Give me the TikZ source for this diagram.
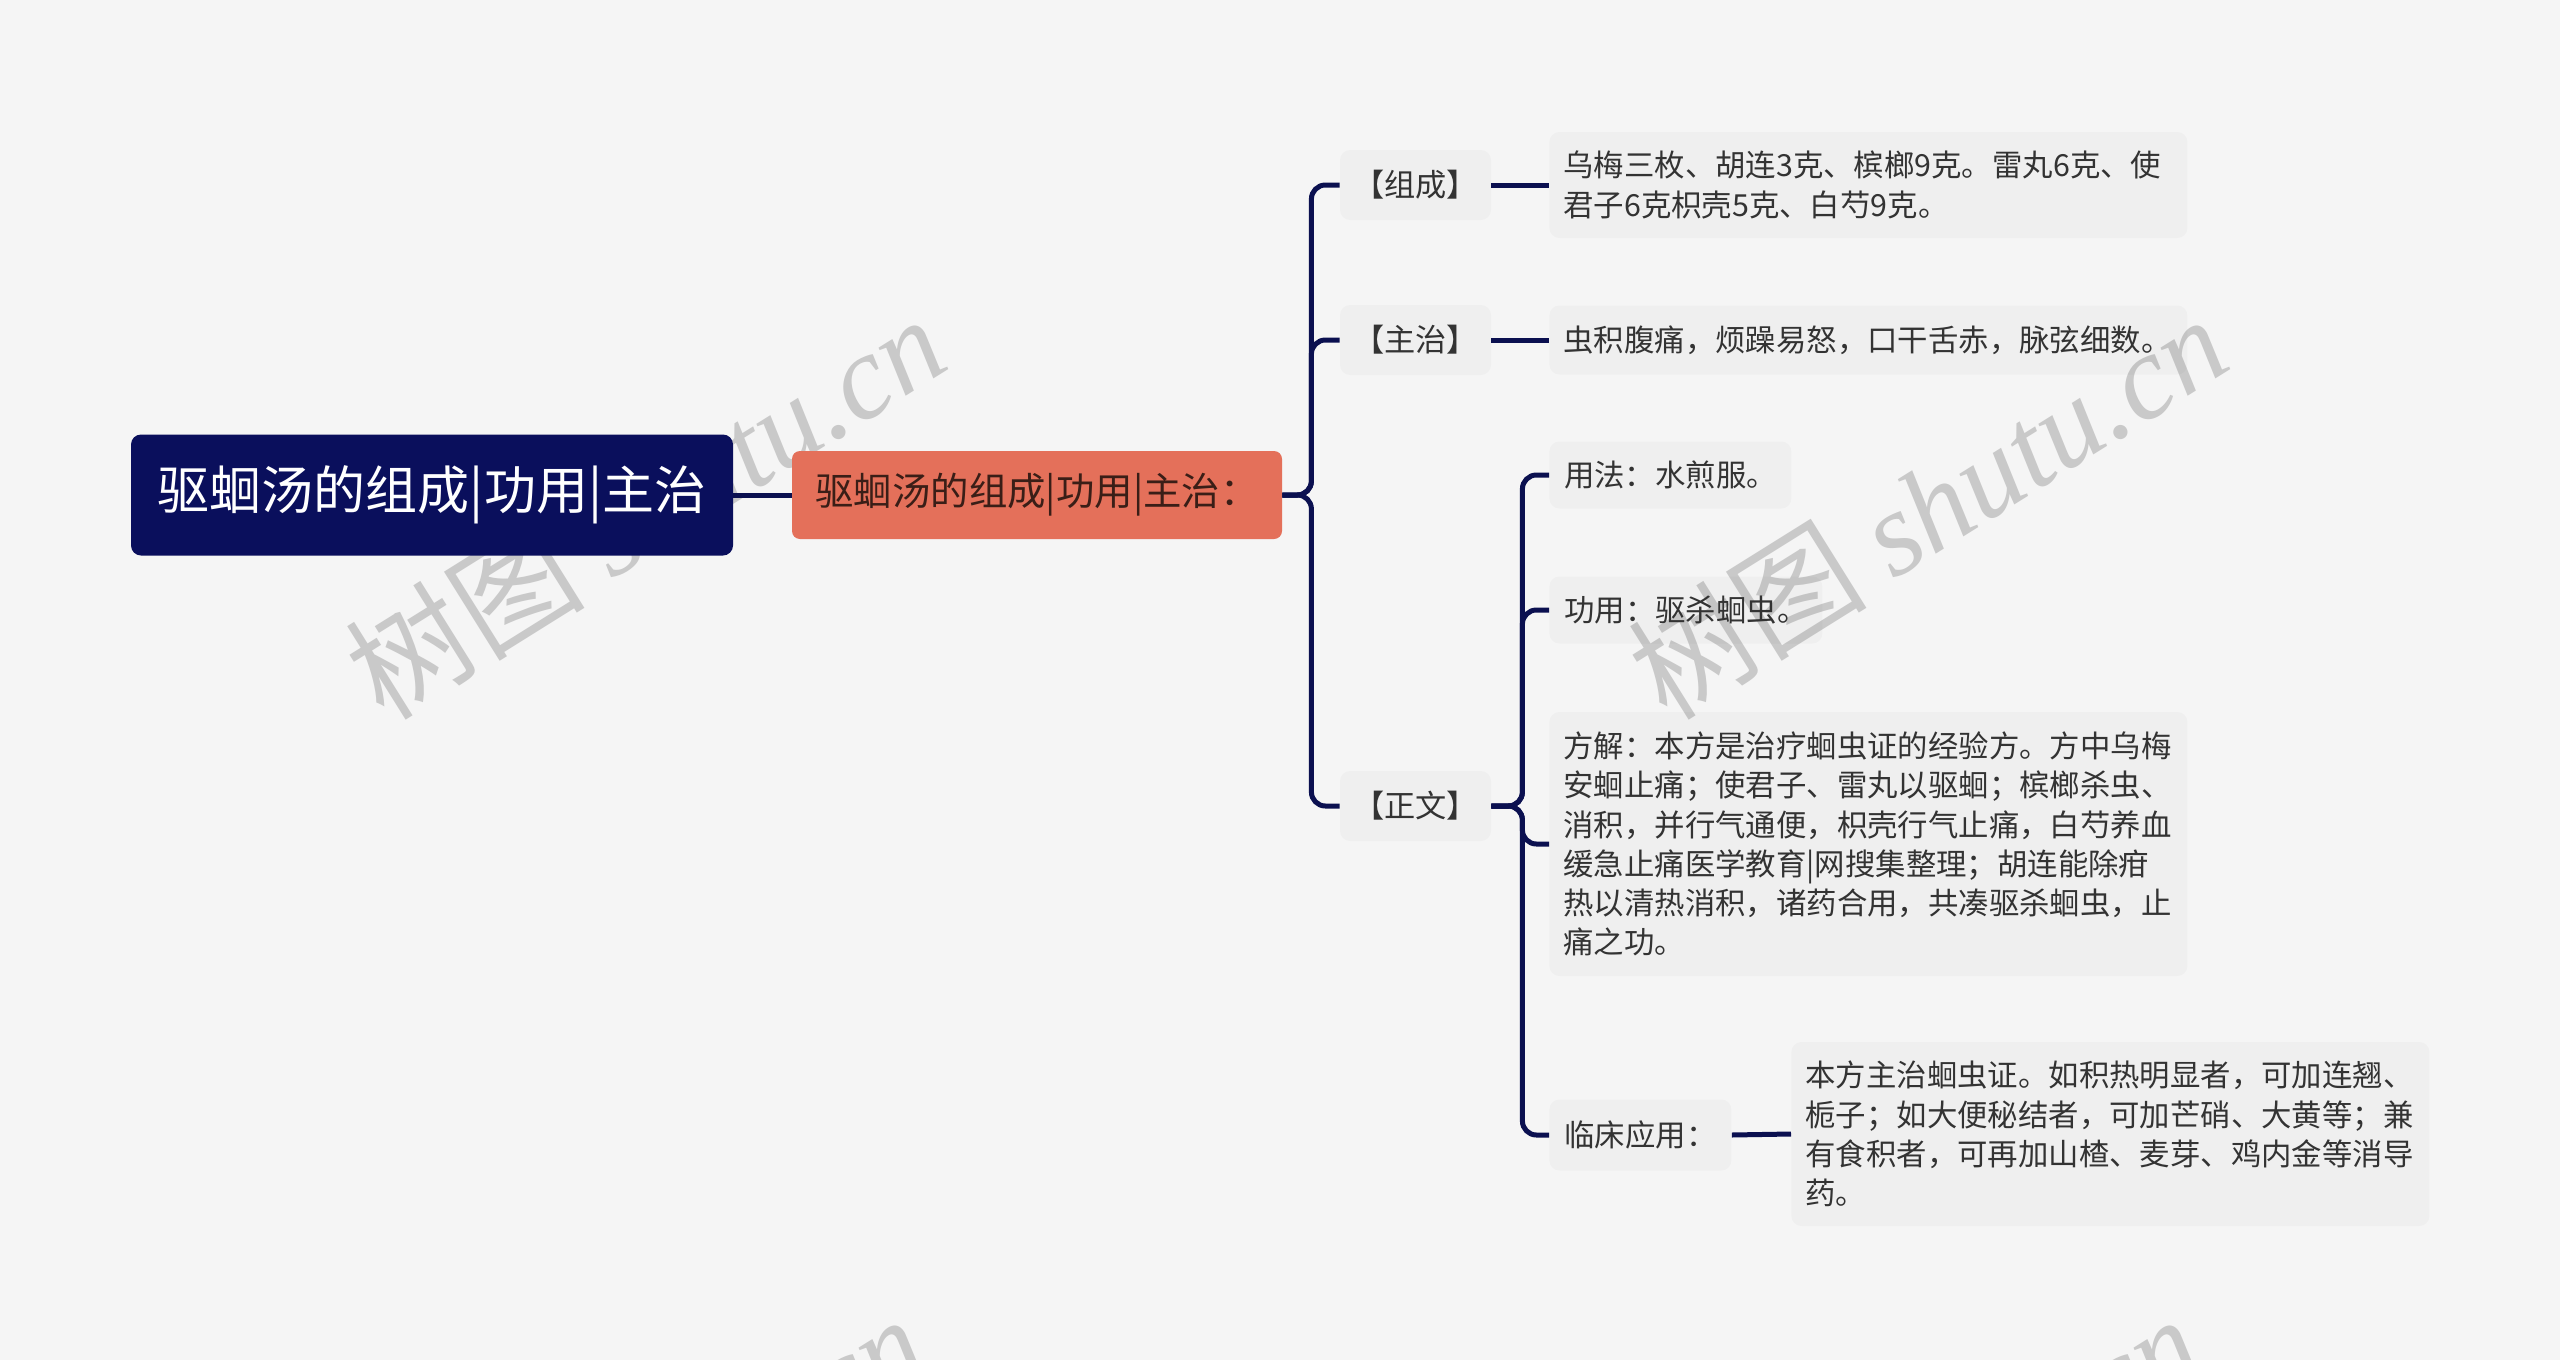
\documentclass[tikz,border=0pt]{standalone}
\usepackage{fontspec}
\newfontfamily\cjk{Noto Sans CJK SC}
\newfontfamily\wmserif{Liberation Serif}
\definecolor{bgc}{HTML}{F5F5F5}
\definecolor{navy}{HTML}{0A0F5C}
\definecolor{linec}{HTML}{0B1050}
\definecolor{orangec}{HTML}{E4705A}
\definecolor{orangetext}{HTML}{3A1E17}
\definecolor{leaftext}{HTML}{333333}
\definecolor{wmc}{HTML}{C9C9C9}
\tikzset{
  rootbox/.style={fill=navy, rounded corners=5pt, text=white, inner sep=0pt,
    font=\cjk\fontsize{26}{30}\selectfont, minimum width=301pt, minimum height=60.5pt},
  l1box/.style={fill=orangec, rounded corners=4pt, text=orangetext, inner sep=0pt,
    font=\cjk\fontsize{19.2}{23}\selectfont, minimum width=245pt, minimum height=44pt},
  l2box/.style={fill=black, fill opacity=0.025, text opacity=1, rounded corners=5pt, text=leaftext,
    inner sep=0pt, font=\cjk\fontsize{15.6}{19.6}\selectfont, minimum width=75.5pt, minimum height=35pt},
  leafbox/.style={fill=black, fill opacity=0.025, text opacity=1, rounded corners=5pt, text=leaftext,
    anchor=west, inner xsep=7pt, inner ysep=0pt, align=left,
    font=\cjk\fontsize{15.2}{19.6}\selectfont},
  conn/.style={draw=linec, line width=2.5pt, rounded corners=7pt},
  wm/.style={text=wmc, rotate=32, inner sep=0pt},
}
\begin{document}
\begin{tikzpicture}[x=0.5pt,y=-0.5pt]
\fill[bgc] (0,0) rectangle (2560,1360);
\useasboundingbox (0,0) rectangle (2560,1360);
\begin{scope}
\clip (0,0) rectangle (2560,1360);
% watermarks
\node[wm] (wa) at (645,506) {\cjk\fontsize{60}{60}\selectfont 树图 \wmserif\itshape shutu.cn};
\node[wm] (wb) at (1927,506) {\cjk\fontsize{60}{60}\selectfont 树图 \wmserif\itshape shutu.cn};
\node[wm] (wc) at (625,1506) {\cjk\fontsize{60}{60}\selectfont 树图 \wmserif\itshape shutu.cn};
\node[wm] (wd) at (1900,1506) {\cjk\fontsize{60}{60}\selectfont 树图 \wmserif\itshape shutu.cn};
\end{scope}
% nodes
\node[rootbox] (root) at (432,495) {驱蛔汤的组成|功用|主治};
\node[l1box] (main) at (1037,495) {驱蛔汤的组成|功用|主治：};
\node[l2box] (zc) at (1415.5,185) {【组成】};
\node[l2box] (zz) at (1415.5,340) {【主治】};
\node[l2box] (zw) at (1415.5,806) {【正文】};
\node[leafbox, text width=305pt, minimum height=53pt] (zcleaf) at (1549,185)
  {乌梅三枚、胡连3克、槟榔9克。雷丸6克、使\\君子6克枳壳5克、白芍9克。};
\node[leafbox, text width=305pt, minimum height=34.5pt] (zzleaf) at (1549,340)
  {虫积腹痛，烦躁易怒，口干舌赤，脉弦细数。};
\node[leafbox, minimum width=121pt, minimum height=33.5pt, align=center, inner xsep=5pt] (yf) at (1549,475)
  {用法：水煎服。};
\node[leafbox, minimum width=136.5pt, minimum height=33.5pt, align=center, inner xsep=5pt] (gy) at (1549,610)
  {功用：驱杀蛔虫。};
\node[leafbox, text width=305pt, minimum height=132pt] (fj) at (1549,844)
  {方解：本方是治疗蛔虫证的经验方。方中乌梅\\安蛔止痛；使君子、雷丸以驱蛔；槟榔杀虫、\\消积，并行气通便，枳壳行气止痛，白芍养血\\缓急止痛医学教育|网搜集整理；胡连能除疳\\热以清热消积，诸药合用，共凑驱杀蛔虫，止\\痛之功。};
\node[leafbox, minimum width=91pt, minimum height=35.5pt, align=center, inner xsep=5pt] (lc) at (1549,1135)
  {临床应用：};
\node[leafbox, text width=305pt, minimum height=92pt] (lcleaf) at (1791,1134)
  {本方主治蛔虫证。如积热明显者，可加连翘、\\栀子；如大便秘结者，可加芒硝、大黄等；兼\\有食积者，可再加山楂、麦芽、鸡内金等消导\\药。};
% connectors
\draw[conn] (root.east) -- (main.west);
\draw[conn] (main.east) -- ++(29,0) |- (zc.west);
\draw[conn] (main.east) -- ++(29,0) |- (zz.west);
\draw[conn] (main.east) -- ++(29,0) |- (zw.west);
\draw[conn] (zc.east) -- (zcleaf.west);
\draw[conn] (zz.east) -- (zzleaf.west);
\draw[conn] (zw.east) -- ++(31,0) |- (yf.west);
\draw[conn] (zw.east) -- ++(31,0) |- (gy.west);
\draw[conn] (zw.east) -- ++(31,0) |- (fj.west);
\draw[conn] (zw.east) -- ++(31,0) |- (lc.west);
\draw[conn] (lc.east) -- (lcleaf.west);
\end{tikzpicture}
\end{document}
